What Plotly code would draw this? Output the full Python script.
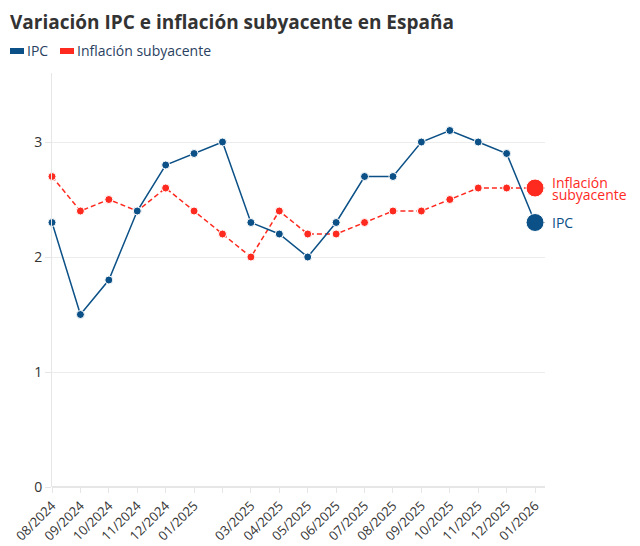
import plotly.graph_objects as go

meses = ['08/2024', '09/2024', '10/2024', '11/2024', '12/2024', '01/2025', '02/2025',
         '03/2025', '04/2025', '05/2025', '06/2025', '07/2025', '08/2025', '09/2025',
         '10/2025', '11/2025', '12/2025', '01/2026']
etiquetas = ['08/2024', '09/2024', '10/2024', '11/2024', '12/2024', '01/2025', '',
             '03/2025', '04/2025', '05/2025', '06/2025', '07/2025', '08/2025', '09/2025',
             '10/2025', '11/2025', '12/2025', '01/2026']
ipc = [2.3, 1.5, 1.8, 2.4, 2.8, 2.9, 3.0, 2.3, 2.2, 2.0, 2.3, 2.7, 2.7, 3.0, 3.1, 3.0, 2.9, 2.3]
subyacente = [2.7, 2.4, 2.5, 2.4, 2.6, 2.4, 2.2, 2.0, 2.4, 2.2, 2.2, 2.3, 2.4, 2.4, 2.5, 2.6, 2.6, 2.6]

AZUL = '#0b5086'
ROJO = '#ff2a1f'
FUENTE = 'Open Sans'

# el body de la pagina mete 8px de margen, se compensa aqui
OFF = 8
W, H = 640, 546
L, R, T, B = 52 - OFF, 95 + OFF, 73 - OFF, 59 + OFF
pw, ph = W - L - R, H - T - B

def px(x):
    return (x - OFF - L) / pw

def py(y):
    return (H - B - (y - OFF)) / ph

n = len(meses)
xs = list(range(n))
tamanos = [8] * (n - 1) + [18]

fig = go.Figure()

fig.add_trace(go.Scatter(
    x=xs, y=subyacente, mode='lines+markers', name='Inflación subyacente',
    line=dict(color=ROJO, width=1.5, dash='5px,3px'),
    marker=dict(color=ROJO, size=tamanos, opacity=1, line=dict(color='white', width=1)),
    cliponaxis=False, showlegend=False,
))
fig.add_trace(go.Scatter(
    x=xs, y=ipc, mode='lines+markers', name='IPC',
    line=dict(color=AZUL, width=1.5),
    marker=dict(color=AZUL, size=tamanos, opacity=1, line=dict(color='white', width=1)),
    cliponaxis=False, showlegend=False,
))

# etiquetas al final de cada serie (texto + rayita)
finales = [(subyacente[-1], ['Inflación', 'subyacente'], ROJO),
           (ipc[-1], ['IPC'], AZUL)]
for valor, lineas, color in finales:
    fig.add_shape(type='line', xref='x', yref='y', xsizemode='pixel', xanchor=n - 1,
                  x0=9, x1=14, y0=valor, y1=valor, line=dict(color='#bbbbbb', width=1))
    k = len(lineas)
    for i, texto in enumerate(lineas):
        fig.add_annotation(x=n - 1, y=valor, text=texto, showarrow=False,
                           xanchor='left', yanchor='middle', xshift=15,
                           yshift=6 * (k - 1) - 12 * i,
                           font=dict(family=FUENTE, size=14, color=color))

# leyenda manual
leyenda = [('IPC', AZUL, 10), ('Inflación subyacente', ROJO, 60)]
for nombre, color, x0 in leyenda:
    fig.add_shape(type='rect', xref='paper', yref='paper',
                  x0=px(x0), x1=px(x0 + 14), y0=py(54), y1=py(48),
                  fillcolor=color, line=dict(width=0))
    fig.add_annotation(xref='paper', yref='paper', x=px(x0 + 15), y=py(51),
                       text=nombre, showarrow=False, xanchor='left', yanchor='middle',
                       font=dict(family=FUENTE, size=14, color='#2a3f5f'))

fig.update_layout(
    width=W, height=H,
    margin=dict(l=L, r=R, t=T, b=B),
    paper_bgcolor='white', plot_bgcolor='white',
    font=dict(family=FUENTE, size=13, color='#333333'),
    title=dict(text='<b>Variación IPC e inflación subyacente en España</b>',
               x=(10 - OFF) / W, xanchor='left', y=1 - (22 - OFF) / H, yanchor='middle',
               font=dict(family=FUENTE, size=19, color='#333333')),
    xaxis=dict(
        range=[0, 17.35], tickmode='array', tickvals=xs, ticktext=etiquetas,
        tickangle=-45, ticks='outside', ticklen=5, tickcolor='#e6e6e6',
        showgrid=False, zeroline=False, showline=False, automargin=False,
        tickfont=dict(family=FUENTE, size=13, color='#333333'),
    ),
    yaxis=dict(
        range=[0, 3.6], tickvals=[0, 1, 2, 3], showgrid=True, gridcolor='#ececec',
        zeroline=True, zerolinecolor='#e6e6e6', showline=True, linecolor='#e6e6e6',
        ticks='outside', ticklen=6, tickcolor='#e6e6e6', automargin=False,
        tickfont=dict(family=FUENTE, size=14, color='#333333'),
    ),
)

fig.write_html('out.html')
